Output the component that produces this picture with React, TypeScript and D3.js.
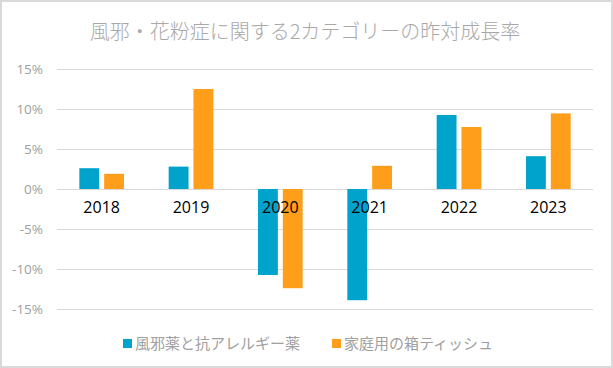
import { useEffect, useRef } from 'react'
import * as d3 from 'd3'

const years = ['2018', '2019', '2020', '2021', '2022', '2023']
const seriesNames = ['風邪薬と抗アレルギー薬', '家庭用の箱ティッシュ']
const coldMedicine = [0.026, 0.028, -0.1075, -0.139, 0.0925, 0.041]
const tissue = [0.019, 0.125, -0.124, 0.029, 0.0775, 0.0945]
const yTicks = [-0.15, -0.1, -0.05, 0, 0.05, 0.1, 0.15]
const title = '風邪・花粉症に関する2カテゴリーの昨対成長率'

const colors = ['#00a3cc', '#ff9e1a']
const W = 613
const H = 368
const plot = { left: 57, right: 593, top: 69, bottom: 309 }
const jpFont = '"Noto Sans CJK JP", "Noto Sans", sans-serif'
const numFont = '"Open Sans", "Noto Sans", sans-serif'

const App = () => {
  const svgRef = useRef<SVGSVGElement | null>(null)

  useEffect(() => {
    if (!svgRef.current) return
    const svg = d3.select(svgRef.current)
    svg.selectAll('*').remove()

    svg.append('rect')
      .attr('x', 1).attr('y', 1)
      .attr('width', W - 2).attr('height', H - 2)
      .attr('fill', '#fff')
      .attr('stroke', '#d9d9d9')
      .attr('stroke-width', 2)

    const x = d3.scaleBand<string>()
      .domain(years)
      .range([plot.left, plot.right])
      .paddingInner(0.5)
      .paddingOuter(0.25)

    const xSub = d3.scaleBand<number>()
      .domain([0, 1])
      .range([0, x.bandwidth()])
      .paddingInner(0.2)

    const y = d3.scaleLinear()
      .domain([-0.15, 0.15])
      .range([plot.bottom, plot.top])

    // grid lines
    svg.append('g')
      .selectAll('line')
      .data(yTicks)
      .enter()
      .append('line')
      .attr('x1', plot.left)
      .attr('x2', plot.right)
      .attr('y1', d => Math.round(y(d)) + 0.5)
      .attr('y2', d => Math.round(y(d)) + 0.5)
      .attr('stroke', '#d9d9d9')
      .attr('stroke-width', 1)

    // y tick labels
    svg.append('g')
      .selectAll('text')
      .data(yTicks)
      .enter()
      .append('text')
      .attr('x', 43)
      .attr('y', d => y(d))
      .attr('dy', '0.35em')
      .attr('text-anchor', 'end')
      .attr('fill', '#a0a0a0')
      .style('font-family', numFont)
      .style('font-size', '13.5px')
      .text(d => `${Math.round(d * 100)}%`)

    // bars
    const series = [coldMedicine, tissue]
    series.forEach((vals, si) => {
      svg.append('g')
        .selectAll('rect')
        .data(vals)
        .enter()
        .append('rect')
        .attr('x', (_, i) => (x(years[i]) ?? 0) + (xSub(si) ?? 0))
        .attr('width', xSub.bandwidth())
        .attr('y', d => y(Math.max(0, d)))
        .attr('height', d => Math.abs(y(d) - y(0)))
        .attr('fill', colors[si])
    })

    // category labels (drawn over the bars)
    svg.append('g')
      .selectAll('text')
      .data(years)
      .enter()
      .append('text')
      .attr('x', d => (x(d) ?? 0) + x.bandwidth() / 2)
      .attr('y', y(0) + 24)
      .attr('text-anchor', 'middle')
      .attr('fill', '#000')
      .style('font-family', numFont)
      .style('font-size', '16px')
      .text(d => d)

    // title
    svg.append('text')
      .attr('x', 305)
      .attr('y', 39)
      .attr('text-anchor', 'middle')
      .attr('fill', '#a8a8a8')
      .style('font-family', jpFont)
      .style('font-size', '20px')
      .style('font-weight', 300)
      .text(title)

    // legend
    const legendX = [123, 332]
    seriesNames.forEach((name, i) => {
      svg.append('rect')
        .attr('x', legendX[i])
        .attr('y', 339)
        .attr('width', 9)
        .attr('height', 9)
        .attr('fill', colors[i])
      svg.append('text')
        .attr('x', legendX[i] + 12)
        .attr('y', 349)
        .attr('fill', '#a0a0a0')
        .style('font-family', jpFont)
        .style('font-size', '15px')
        .text(name)
    })
  }, [])

  return (
    <div style={{ position: 'absolute', left: 0, top: 0 }}>
      <svg ref={svgRef} width={W} height={H} style={{ display: 'block' }} />
    </div>
  )
}

export default App
